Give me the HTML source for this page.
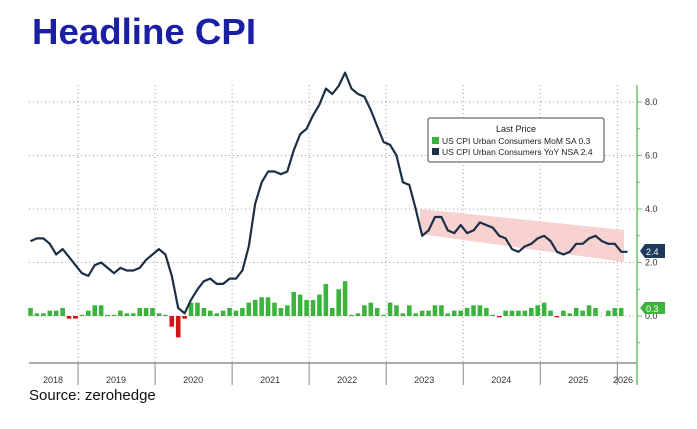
<!DOCTYPE html>
<html><head><meta charset="utf-8"><style>
html,body{margin:0;padding:0;background:#fff;}
svg{display:block;font-family:"Liberation Sans",sans-serif;}
</style></head><body>
<svg id="s" width="697" height="429" viewBox="0 0 697 429" xmlns="http://www.w3.org/2000/svg">
<text x="32" y="44" font-size="36" font-weight="bold" fill="#1a1fa3" textLength="224" lengthAdjust="spacingAndGlyphs">Headline CPI</text>
<text x="29" y="400" font-size="15" fill="#111">Source: zerohedge</text>
<g id="grid" stroke="#999" stroke-width="1" stroke-dasharray="1,3"></g>
<polygon points="420,209 624,230 624,262 420,234" fill="#f7c9c9" opacity="0.85"/>
<g id="bars"></g>
<polyline id="line" fill="none" stroke="#1b2f45" stroke-width="2.2" stroke-linejoin="round"/>
<line x1="29" y1="363" x2="637" y2="363" stroke="#555" stroke-width="1"/>
<line x1="637" y1="85" x2="637" y2="385" stroke="#6bbf6b" stroke-width="1.5"/>
<g id="yl" font-size="9" fill="#333"></g>
<g id="xl" font-size="9" fill="#333"></g>
<rect x="428" y="118" width="176" height="44" fill="#fff" stroke="#444" stroke-width="1" rx="2"/>
<text x="516" y="132" font-size="9" fill="#222" text-anchor="middle">Last Price</text>
<rect x="432" y="137" width="7" height="7" fill="#3cb43c"/>
<text x="442" y="144" font-size="8.5" fill="#222">US CPI Urban Consumers MoM SA  0.3</text>
<rect x="432" y="148" width="7" height="7" fill="#1b2f45"/>
<text x="442" y="155" font-size="8.5" fill="#222">US CPI Urban Consumers YoY NSA 2.4</text>
<polygon points="640,251 645,244 665,244 665,258 645,258" fill="#1b3a5c"/>
<text x="646" y="255" font-size="9" fill="#fff">2.4</text>
<polygon points="640,308 645,302 665,302 665,314 645,314" fill="#3cb43c"/>
<text x="646" y="312" font-size="9" fill="#fff">0.3</text>
</svg>
<script>
var NS="http://www.w3.org/2000/svg";
function el(t,a,p){var e=document.createElementNS(NS,t);for(var k in a)e.setAttribute(k,a[k]);document.getElementById(p).appendChild(e);return e;}
var Z=316,U=26.75;
function Y(v){return Z-v*U;}
function X(m){return 1+6.42*m;}
[8,6,4,2,0].forEach(function(v){el("line",{x1:29,x2:637,y1:Y(v),y2:Y(v)},"grid");
 el("line",{x1:637,x2:642,y1:Y(v),y2:Y(v),stroke:"#6bbf6b"},"yl");
 var t=el("text",{x:645,y:Y(v)+3},"yl");t.textContent=v.toFixed(1);});
[7,5,3,1,-1].forEach(function(v){el("line",{x1:637,x2:640,y1:Y(v),y2:Y(v),stroke:"#6bbf6b"},"yl");});
var years=[2018,2019,2020,2021,2022,2023,2024,2025,2026];
for(var i=1;i<9;i++){var x=X(12*i);el("line",{x1:x,x2:x,y1:85,y2:363},"grid");
 el("line",{x1:x,x2:x,y1:363,y2:385,stroke:"#888"},"xl");}
years.forEach(function(y,i){var c=i==0?53:(i==8?623:X(12*i)+38);var t=el("text",{x:c,y:383,"text-anchor":"middle"},"xl");t.textContent=y;});
var yoy=[2.8,2.9,2.9,2.7,2.3,2.5,2.2,1.9,
1.6,1.5,1.9,2.0,1.8,1.6,1.8,1.7,1.7,1.8,2.1,2.3,
2.5,2.3,1.5,0.3,0.1,0.6,1.0,1.3,1.4,1.2,1.2,1.4,
1.4,1.7,2.6,4.2,5.0,5.4,5.4,5.3,5.4,6.2,6.8,7.0,
7.5,7.9,8.5,8.3,8.6,9.1,8.5,8.3,8.2,7.7,7.1,6.5,
6.4,6.0,5.0,4.9,4.0,3.0,3.2,3.7,3.7,3.2,3.1,3.4,
3.1,3.2,3.5,3.4,3.3,3.0,2.9,2.5,2.4,2.6,2.7,2.9,
3.0,2.8,2.4,2.3,2.4,2.7,2.7,2.9,3.0,2.8,2.7,2.7,2.4,2.4];
var mom=[0.3,0.1,0.1,0.2,0.2,0.3,-0.1,-0.1,
0.0,0.2,0.4,0.4,0.0,0.0,0.2,0.1,0.1,0.3,0.3,0.3,
0.1,0.0,-0.4,-0.8,-0.1,0.5,0.5,0.3,0.2,0.1,0.2,0.3,
0.2,0.3,0.5,0.6,0.7,0.7,0.5,0.3,0.4,0.9,0.8,0.6,
0.6,0.8,1.2,0.3,1.0,1.3,0.0,0.1,0.4,0.5,0.3,0.0,
0.5,0.4,0.1,0.4,0.1,0.2,0.2,0.4,0.4,0.1,0.2,0.2,
0.3,0.4,0.4,0.3,0.0,-0.05,0.2,0.2,0.2,0.2,0.3,0.4,
0.5,0.2,-0.05,0.2,0.1,0.3,0.2,0.4,0.3,null,0.2,0.3,0.3];
var pts=[];
yoy.forEach(function(v,i){var x=X(4.6+i);pts.push(x.toFixed(1)+","+Y(v).toFixed(1));});
document.getElementById("line").setAttribute("points",pts.join(" "));
mom.forEach(function(v,i){if(v===null)return;var x=X(4.6+i)-2.3;var h=Math.abs(v)*U;if(h<1.2)h=1.2;
 el("rect",{x:x,y:v>=0?Z-h:Z,width:4.6,height:h,fill:v>=0?"#3cb43c":"#d0141a"},"bars");});
</script>
</body></html>
